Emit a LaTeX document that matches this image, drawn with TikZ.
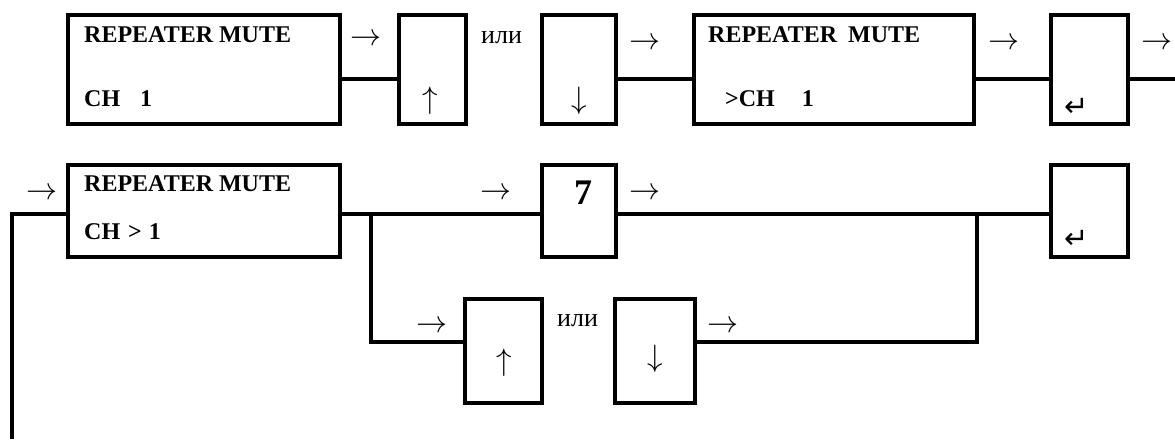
\RequirePackage{fix-cm}
\documentclass[tikz,border=0pt]{standalone}
\usepackage{fontspec}
\setmainfont{Liberation Serif}
\newfontfamily\retfont{DejaVu Sans}
\usetikzlibrary{calc}
\tikzset{
	keybox/.style={draw, line width=3.8pt, inner sep=0pt},
	wire/.style={line width=3.8pt},
	lcd/.style={font=\fontsize{24}{24}\selectfont\bfseries, anchor=base west, inner sep=0pt},
	ili/.style={font=\fontsize{26}{26}\selectfont, anchor=base west, inner sep=0pt},
	arr/.style={font=\fontsize{31}{31}\selectfont, anchor=base, inner sep=0pt},
	ret/.style={font=\fontsize{29}{29}\selectfont\retfont, inner sep=0pt}
}
\def\panel[#1](#2)(#3:#4){\node[keybox, minimum width=#3, minimum height=#4] (#1) at (#2) {};}

\begin{document}
\begin{tikzpicture}[x=1pt, y=-1pt]
			%%%%% START %%%%%
			\useasboundingbox (0,0) rectangle (1175,439);
			
			\coordinate (r1) at (0,79);
			\coordinate (r2) at (0,214);
			\coordinate (r3) at (0,342);
			
			% first row
			\panel[m1](204,69.5)(272pt:109pt)
			\panel[up1](432.5,69.5)(67pt:109pt)
			\panel[dn1](579,69.5)(74pt:109pt)
			\panel[m2](834,69.5)(280pt:109pt)
			\panel[en1](1089.5,69.5)(77pt:109pt)
			
			\node[lcd] (t1) at (84,42) {REPEATER MUTE};
			\node[lcd] (t2) at (84,106) {CH\hspace*{20pt}1};
			\node[lcd] (t3) at (708,42) {REPEATER\hspace*{11pt}MUTE};
			\node[lcd] (t4) at (725,106) {>CH\hspace*{27pt}1};
			
			\node[arr] (a1) at (366,45.5) {$\rightarrow$};
			\node[arr] (k1) at (430,108.5) {$\uparrow$};
			\node[ili] (o1) at (481,43) {или};
			\node[arr] (k2) at (579,108.5) {$\downarrow$};
			\node[arr] (a2) at (645,49.5) {$\rightarrow$};
			\node[arr] (a3) at (1004,49.5) {$\rightarrow$};
			\node[ret] (e1) at (1077,107) {↵};
			\node[arr] (a4) at (1157,49.5) {$\rightarrow$};
			
			\coordinate (out) at (1175,79);
			\draw[wire] (m1.east |- r1) -- (up1.west |- r1);
			\draw[wire] (dn1.east |- r1) -- (m2.west |- r1);
			\draw[wire] (m2.east |- r1) -- (en1.west |- r1);
			\draw[wire] (en1.east |- r1) -- (out);
			
			% second row
			\panel[m3](204,211)(272pt:92pt)
			\panel[k7](579,211)(74pt:92pt)
			\panel[en2](1089.5,211)(77pt:92pt)
			\panel[up2](503.5,351)(77pt:104pt)
			\panel[dn2](655,351)(80pt:104pt)
			
			\node[lcd] (t5) at (84,191) {REPEATER MUTE};
			\node[lcd] (t6) at (84,239) {CH\hspace*{8pt}>\hspace*{7pt}1};
			\node[font=\fontsize{36}{36}\selectfont\bfseries, anchor=base, inner sep=0pt] (n7) at (583,204) {7};
			
			\node[arr] (a5) at (42,199.5) {$\rightarrow$};
			\node[arr] (a6) at (496,199.5) {$\rightarrow$};
			\node[arr] (a7) at (645,199.5) {$\rightarrow$};
			\node[ret] (e2) at (1077,239) {↵};
			
			\node[arr] (a8) at (432,332.5) {$\rightarrow$};
			\node[arr] (k3) at (504,370) {$\uparrow$};
			\node[ili] (o2) at (557,326) {или};
			\node[arr] (k4) at (655,366) {$\downarrow$};
			\node[arr] (a9) at (723,332.5) {$\rightarrow$};
			
			\coordinate (back) at (12,439);
			\coordinate (sp1) at (371,214);
			\coordinate (sp2) at (977,214);
			\draw[wire] (m3.west |- r2) -| (back);
			\draw[wire] (m3.east |- r2) -- (k7.west |- r2);
			\draw[wire] (k7.east |- r2) -- (en2.west |- r2);
			\draw[wire] (sp1) |- (up2.west |- r3);
			\draw[wire] (dn2.east |- r3) -| (sp2);
			
			%%%%% END %%%%%
\end{tikzpicture}
\end{document}
